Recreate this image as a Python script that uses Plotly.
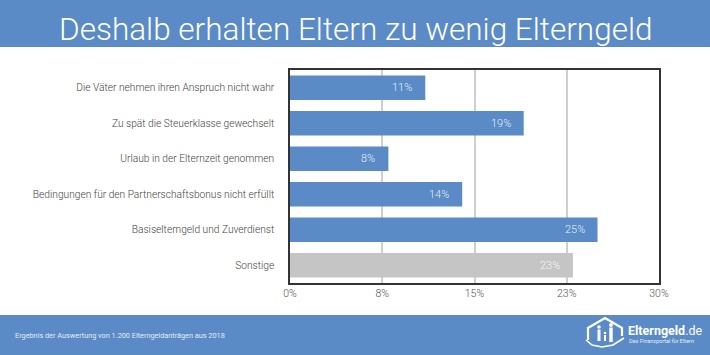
import plotly.graph_objects as go

categories = [
    "Die Väter nehmen ihren Anspruch nicht wahr",
    "Zu spät die Steuerklasse gewechselt",
    "Urlaub in der Elternzeit genommen",
    "Bedingungen für den Partnerschaftsbonus nicht erfüllt",
    "Basiselterngeld und Zuverdienst",
    "Sonstige",
]
values = [11, 19, 8, 14, 25, 23]
value_labels = ["11%", "19%", "8%", "14%", "25%", "23%"]
tick_values = [0, 7.5, 15, 22.5, 30]
tick_labels = ["0%", "8%", "15%", "23%", "30%"]

BLUE = "#5a8bc6"
GRAY = "#c5c5c5"
colors = [BLUE] * 5 + [GRAY]

W, H = 710, 355
ML, MR, MT, MB = 290, 51, 70, 72
PW, PH = W - ML - MR, H - MT - MB


def px(x):
    return (x - ML) / PW


def py(y):
    return (H - MB - y) / PH


fig = go.Figure()
fig.add_trace(go.Bar(
    y=categories, x=values, orientation="h",
    marker=dict(color=colors, line=dict(width=0)),
    hoverinfo="skip",
))

annotations = []
for c, v, t in zip(categories, values, value_labels):
    annotations.append(dict(
        x=v, y=c, xref="x", yref="y", text=t, showarrow=False,
        xanchor="right", xshift=-11,
        font=dict(family="Roboto", size=11, color="rgba(255,255,255,0.88)", weight=300),
    ))

# title
annotations.append(dict(
    x=px(355.5), y=py(30), xref="paper", yref="paper",
    text="Deshalb erhalten Eltern zu wenig Elterngeld", showarrow=False,
    xanchor="center", yanchor="middle",
    font=dict(family="Roboto", size=31.5, color="white", weight=300),
))
# footer text
annotations.append(dict(
    x=px(13), y=py(335), xref="paper", yref="paper",
    text="Ergebnis der Auswertung von 1.200 Elterngeldanträgen aus 2018",
    showarrow=False, xanchor="left", yanchor="middle",
    font=dict(family="Roboto", size=7.3, color="#e3ebf5"),
))
# logo text
annotations.append(dict(
    x=px(626), y=py(330), xref="paper", yref="paper",
    text="<b>Elterngeld</b>.de", showarrow=False, xanchor="left", yanchor="middle",
    font=dict(family="Roboto", size=12.5, color="white"),
))
annotations.append(dict(
    x=px(627), y=py(341), xref="paper", yref="paper",
    text="Das Finanzportal für Eltern", showarrow=False, xanchor="left", yanchor="middle",
    font=dict(family="Roboto", size=5.5, color="#e3ebf5"),
))

shapes = [
    dict(type="rect", xref="paper", yref="paper", x0=px(0), x1=px(W), y0=py(0), y1=py(47),
         fillcolor=BLUE, line=dict(width=0), layer="below"),
    dict(type="rect", xref="paper", yref="paper", x0=px(0), x1=px(W), y0=py(315), y1=py(H),
         fillcolor=BLUE, line=dict(width=0), layer="below"),
]


def path(points, close=False):
    s = "M " + " L ".join(f"{px(a):.5f},{py(b):.5f}" for a, b in points)
    return s + (" Z" if close else "")


# house outline
shapes.append(dict(type="path", xref="paper", yref="paper",
                   path=path([(588, 340), (588, 328), (605, 318), (622, 328), (622, 336)]),
                   line=dict(color="white", width=2.2)))
# swoosh
shapes.append(dict(type="path", xref="paper", yref="paper",
                   path=path([(586, 340), (592, 345), (602, 347), (613, 345), (624, 338)]),
                   line=dict(color="white", width=1.6)))
# people heads
for cx, cy, r in [(599, 327, 1.8), (611, 325, 2.0), (605, 333, 1.3)]:
    shapes.append(dict(type="circle", xref="paper", yref="paper",
                       x0=px(cx - r), x1=px(cx + r), y0=py(cy - r), y1=py(cy + r),
                       fillcolor="white", line=dict(width=0)))
# people bodies
for x0, x1, y0, y1 in [(597.5, 600.5, 329.5, 341), (609.3, 612.7, 327.5, 342), (604, 606, 335, 341)]:
    shapes.append(dict(type="rect", xref="paper", yref="paper",
                       x0=px(x0), x1=px(x1), y0=py(y0), y1=py(y1),
                       fillcolor="white", line=dict(width=0)))

fig.update_layout(
    width=W, height=H,
    margin=dict(l=ML, r=MR, t=MT, b=MB),
    paper_bgcolor="white", plot_bgcolor="white",
    bargap=0.31,
    showlegend=False,
    annotations=annotations,
    shapes=shapes,
    font=dict(family="Roboto", size=10, color="#444444"),
    xaxis=dict(
        range=[0, 30], tickvals=tick_values, ticktext=tick_labels,
        showgrid=True, gridcolor="#cfcfcf", gridwidth=1.5,
        showline=True, linecolor="#333333", linewidth=1.5, mirror=True,
        zeroline=False, ticks="", ticklen=0,
        tickfont=dict(family="Roboto", size=10.5, color="#555555", weight=300),
        fixedrange=True,
    ),
    yaxis=dict(
        autorange="reversed",
        showline=True, linecolor="#333333", linewidth=1.5, mirror=True,
        showgrid=False, ticks="", ticklabelstandoff=12,
        tickfont=dict(family="Roboto", size=10.2, color="#444444", weight=300),
        fixedrange=True,
    ),
)

fig.write_html("out.html", config=dict(displayModeBar=False),
               post_script="document.body.style.margin='0px';document.body.style.padding='0px';")
